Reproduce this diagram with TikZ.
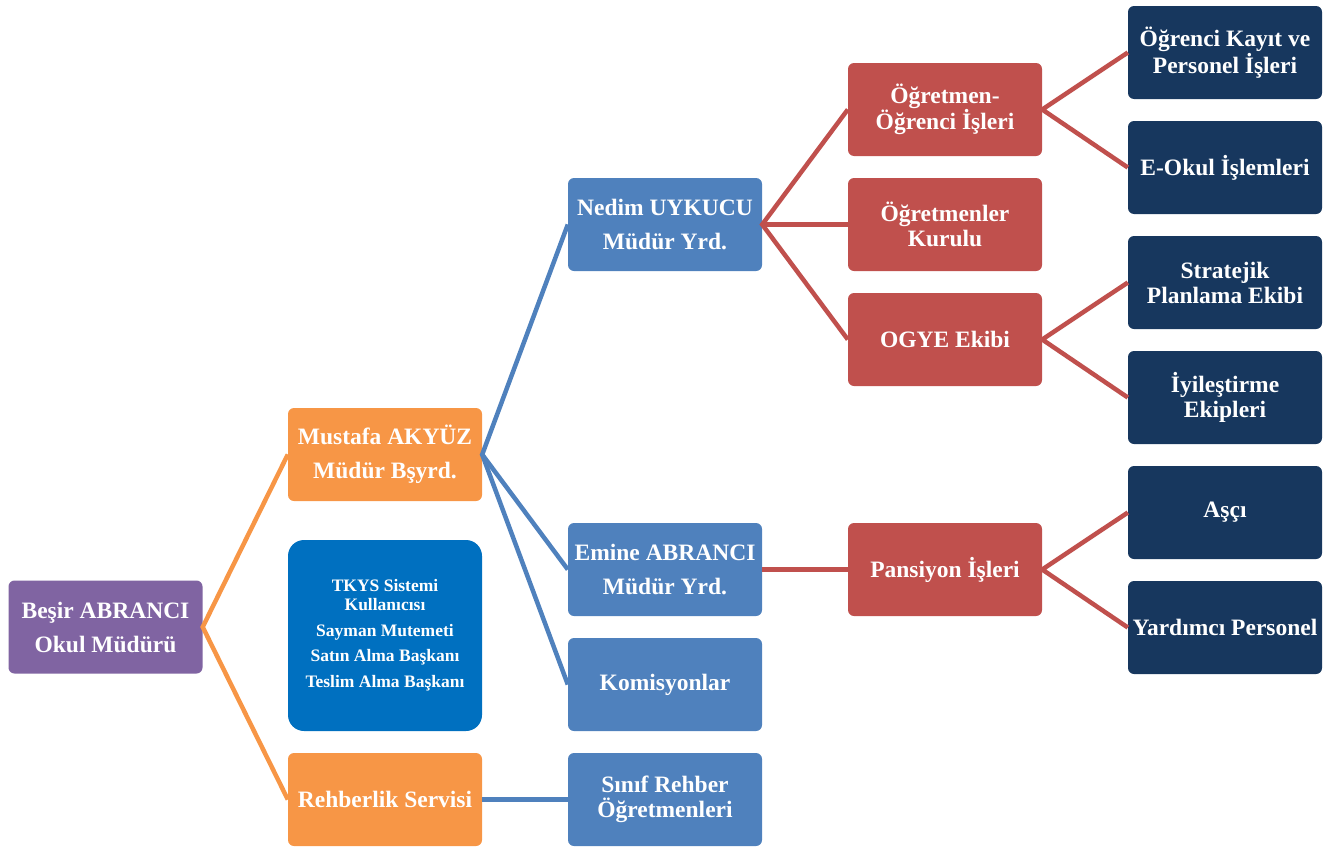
\documentclass[tikz,border=0pt]{standalone}
\usepackage{fontspec}
\setmainfont{Liberation Serif}
\usepackage{tikz}

\definecolor{mudur}{HTML}{8064A2}
\definecolor{turuncu}{HTML}{F79646}
\definecolor{mavi}{HTML}{4F81BD}
\definecolor{tkys}{HTML}{0070C0}
\definecolor{kirmizi}{HTML}{C0504D}
\definecolor{lacivert}{HTML}{17375E}

\tikzset{
  kutu/.style={rectangle, rounded corners=6pt, minimum width=194pt, minimum height=93pt,
    inner sep=2pt, align=center, text=white, font=\fontsize{23.5}{25}\selectfont\bfseries},
  genis/.style={font=\fontsize{23.5}{34}\selectfont\bfseries},
  hat/.style={line width=4.5pt}
}

\begin{document}
\begin{tikzpicture}[x=1pt, y=-1pt]
\useasboundingbox (0,0) rectangle (1337,849);
% Define the boxes, column by column
\node[kutu, genis, fill=mudur] (B0) at (105.5,627) {Beşir ABRANCI\\Okul Müdürü};

\node[kutu, genis, fill=turuncu] (M1) at (385,454.5) {Mustafa AKYÜZ\\Müdür Bşyrd.};
\node[kutu, fill=tkys, rounded corners=16pt, minimum height=191pt,
  font=\fontsize{17.5}{19}\selectfont\bfseries] (T1) at (385,635.5)
  {TKYS Sistemi\\Kullanıcısı\\[7pt]Sayman Mutemeti\\[6pt]Satın Alma Başkanı\\[7pt]Teslim Alma Başkanı};
\node[kutu, fill=turuncu] (R1) at (385,799.5) {Rehberlik Servisi};

\node[kutu, genis, fill=mavi] (N2) at (665,224.5) {Nedim UYKUCU\\Müdür Yrd.};
\node[kutu, genis, fill=mavi] (E2) at (665,569.5) {Emine ABRANCI\\Müdür Yrd.};
\node[kutu, fill=mavi] (K2) at (665,684.5) {Komisyonlar};
\node[kutu, fill=mavi] (S2) at (665,799.5) {Sınıf Rehber\\Öğretmenleri};

\node[kutu, fill=kirmizi] (O3) at (945,109.5) {Öğretmen-\\Öğrenci İşleri};
\node[kutu, fill=kirmizi] (OK3) at (945,224.5) {Öğretmenler\\Kurulu};
\node[kutu, fill=kirmizi] (G3) at (945,339.5) {OGYE Ekibi};
\node[kutu, fill=kirmizi] (P3) at (945,569.5) {Pansiyon İşleri};

\node[kutu, fill=lacivert] (KP4) at (1225,52.5) {Öğrenci Kayıt ve\\Personel İşleri};
\node[kutu, fill=lacivert] (EO4) at (1225,167.5) {E-Okul İşlemleri};
\node[kutu, fill=lacivert] (SP4) at (1225,282.5) {Stratejik\\Planlama Ekibi};
\node[kutu, fill=lacivert] (IE4) at (1225,397.5) {İyileştirme\\Ekipleri};
\node[kutu, fill=lacivert] (A4) at (1225,512.5) {Aşçı};
\node[kutu, fill=lacivert] (YP4) at (1225,627.5) {Yardımcı Personel};

% Draw the connectors
\draw[hat, turuncu] (M1.west) -- (B0.east) -- (R1.west);
\draw[hat, mavi] (N2.west) -- (M1.east) -- (E2.west);
\draw[hat, mavi] (M1.east) -- (K2.west);
\draw[hat, mavi] (R1.east) -- (S2.west);
\draw[hat, kirmizi] (O3.west) -- (N2.east) -- (G3.west);
\draw[hat, kirmizi] (N2.east) -- (OK3.west);
\draw[hat, kirmizi] (E2.east) -- (P3.west);
\draw[hat, kirmizi] (KP4.west) -- (O3.east) -- (EO4.west);
\draw[hat, kirmizi] (SP4.west) -- (G3.east) -- (IE4.west);
\draw[hat, kirmizi] (A4.west) -- (P3.east) -- (YP4.west);
\end{tikzpicture}
\end{document}
